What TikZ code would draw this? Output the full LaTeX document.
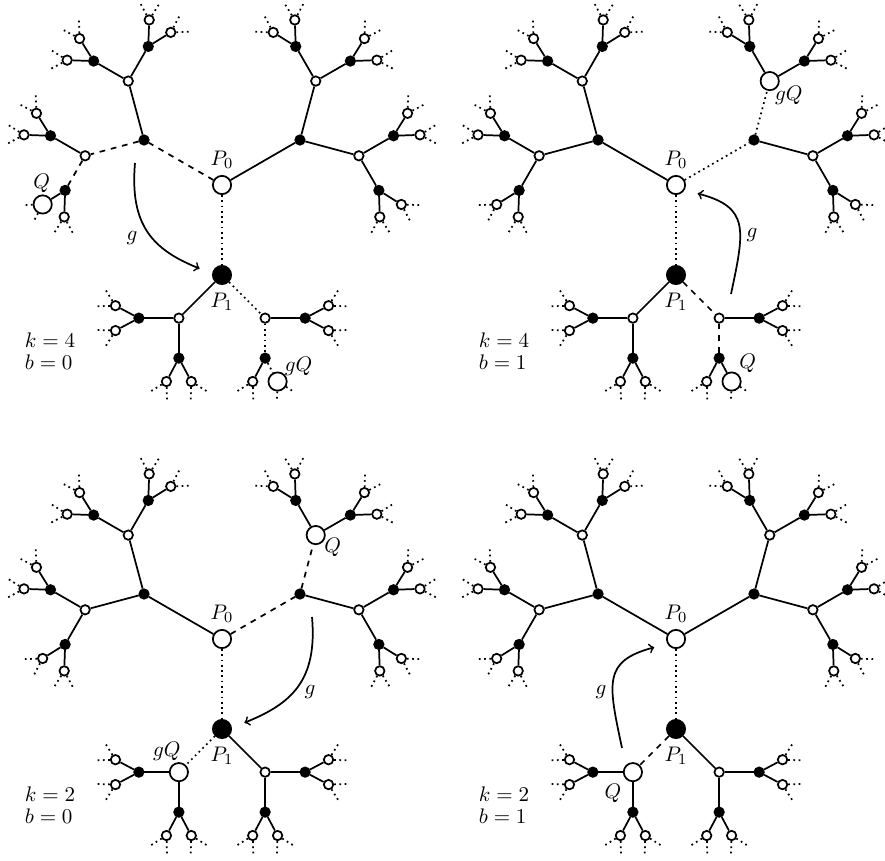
\documentclass[tikz,border=0pt]{standalone}
\usetikzlibrary{calc}

\tikzset{
  wnode/.style={circle,draw,line width=0.9pt,fill=white,inner sep=0pt,minimum size=4.9pt},
  bnode/.style={wnode,fill=black},
  big/.style={minimum size=9.5pt},
  link/.style={line width=0.9pt},
  dots/.style={dash pattern=on 0.9pt off 1.85pt},
  stub/.style={link,dots},
  gmap/.style={line width=0.9pt,->,shorten >=7pt},
  n3/.style={big}
}

% one copy of the tree, #1 = prefix of the node names
\newcommand\bttree[1]{%
  \node[wnode,big] (#1) at (0,0) {};
  \foreach \ia/\ra in {1/150,2/30,3/270} {
    \path (#1) ++(\ra:90) node[bnode,n\ia/.try] (#1\ia) {};
    \draw[link,e\ia/.try] (#1) -- (#1\ia);
    \foreach \ib in {1,2} {
      \pgfmathsetmacro\rb{\ra+45*(3-2*\ib)}
      \path (#1\ia) ++(\rb:61) node[wnode,n\ia\ib/.try] (#1\ia\ib) {};
      \draw[link,e\ia\ib/.try] (#1\ia) -- (#1\ia\ib);
      \foreach \ic in {1,2} {
        \pgfmathsetmacro\rc{\rb+45*(3-2*\ic)}
        \path (#1\ia\ib) ++(\rc:40) node[bnode] (#1\ia\ib\ic) {};
        \draw[link,e\ia\ib\ic/.try] (#1\ia\ib) -- (#1\ia\ib\ic);
        \foreach \id in {1,2} {
          \pgfmathsetmacro\rd{\rc+28*(3-2*\id)}
          \path (#1\ia\ib\ic) ++(\rd:26.5) node[wnode,n\ia\ib\ic\id/.try] (#1\ia\ib\ic\id) {};
          \draw[link,e\ia\ib\ic\id/.try] (#1\ia\ib\ic) -- (#1\ia\ib\ic\id);
          \foreach \ie in {1,2} {
            \pgfmathsetmacro\re{\rd+30*(3-2*\ie)}
            \path (#1\ia\ib\ic\id) ++(\re:19) coordinate (#1\ia\ib\ic\id-\ie);
            \draw[stub] (#1\ia\ib\ic\id) -- (#1\ia\ib\ic\id-\ie);
          }
        }
      }
    }
  }%
}

\begin{document}
\begin{tikzpicture}[x=0.52pt,y=0.52pt,font=\fontsize{10.95}{11.6}\selectfont]
\useasboundingbox (-222,-675) rectangle (663,185);
\clip (-222,-675) rectangle (663,185);
% ---------------- k=4, b=0 ----------------
\begin{scope}[e1/.style={dashed},e11/.style={dashed},e111/.style={dashed},
  e3/.style={dots},e31/.style={dots},e312/.style={dots},e3121/.style={dots},
  n1112/.style={big},n3121/.style={big}]
  \bttree{a}
  \node (a-p0) at (0,25) {$P_0$};
  \node (a-p1) at (0,-117) {$P_1$};
  \node (a-q) at ([shift={(-1,21)}]a1112) {$Q$};
  \node (a-gq) at ([shift={(21,15)}]a3121) {$gQ$};
  \node[align=left] (a-kb) at (-172,-166) {$k=4$\\$b=0$};
  \coordinate (a-g) at (-87,22);
  \draw[gmap] (a-g) to[out=265,in=158,looseness=1.2] (a3.172);
  \node (a-lg) at (-90,-53) {$g$};
\end{scope}
% ---------------- k=4, b=1 ----------------
\begin{scope}[shift={(454,0)},
  e3/.style={dots},e2/.style={dots},e21/.style={dots},
  e31/.style={dashed},e312/.style={dashed},
  n21/.style={big},n3121/.style={big}]
  \bttree{b}
  \node (b-p0) at (0,25) {$P_0$};
  \node (b-p1) at (0,-117) {$P_1$};
  \node (b-q) at ([shift={(16,18)}]b3121) {$Q$};
  \node (b-gq) at ([shift={(19,-14)}]b21) {$gQ$};
  \node[align=left] (b-kb) at (-172,-166) {$k=4$\\$b=1$};
  \coordinate (b-g) at (55,-109);
  \draw[gmap] (b-g) to[out=78,in=-15,looseness=1.5] (b.-30);
  \node (b-lg) at (76,-50) {$g$};
\end{scope}
% ---------------- k=2, b=0 ----------------
\begin{scope}[shift={(0,-454)},
  e2/.style={dashed},e21/.style={dashed},
  e3/.style={dots},e32/.style={dots},
  n21/.style={big},n32/.style={big}]
  \bttree{c}
  \node (c-p0) at (0,25) {$P_0$};
  \node (c-p1) at (0,-117) {$P_1$};
  \node (c-q) at ([shift={(17,-12)}]c21) {$Q$};
  \node (c-gq) at ([shift={(-12,21)}]c32) {$gQ$};
  \node[align=left] (c-kb) at (-172,-166) {$k=2$\\$b=0$};
  \coordinate (c-g) at (90,22);
  \draw[gmap] (c-g) to[out=-85,in=22,looseness=1.2] (c3.7);
  \node (c-lg) at (88,-53) {$g$};
\end{scope}
% ---------------- k=2, b=1 ----------------
\begin{scope}[shift={(454,-454)},
  e3/.style={dots},e32/.style={dashed},
  n32/.style={big}]
  \bttree{d}
  \node (d-p0) at (0,25) {$P_0$};
  \node (d-p1) at (0,-117) {$P_1$};
  \node (d-q) at ([shift={(-20,-21)}]d32) {$Q$};
  \node[align=left] (d-kb) at (-172,-166) {$k=2$\\$b=1$};
  \coordinate (d-g) at (-54,-109);
  \draw[gmap] (d-g) to[out=102,in=195,looseness=1.5] (d.209);
  \node (d-lg) at (-75,-53) {$g$};
\end{scope}
\end{tikzpicture}
\end{document}
